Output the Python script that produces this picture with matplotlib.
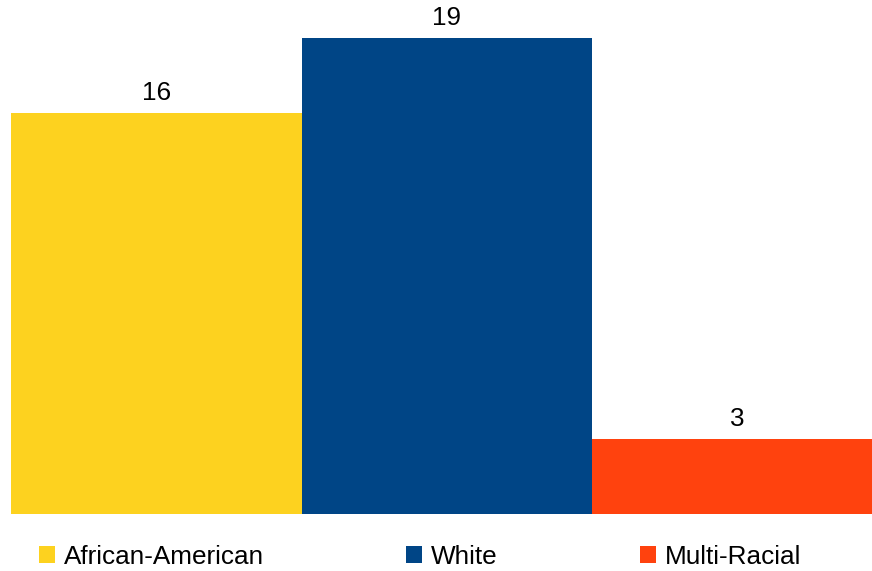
import matplotlib
matplotlib.use("Agg")
import matplotlib.pyplot as plt
from matplotlib.patches import Patch

categories = ["African-American", "White", "Multi-Racial"]
values = [16, 19, 3]
colors = ["#FDD21F", "#004586", "#FF420E"]

plt.rcParams["font.family"] = ["Liberation Sans", "DejaVu Sans"]

W, H = 872, 571
fig = plt.figure(figsize=(W / 100, H / 100), dpi=100)

left_px, right_px, bottom_px = 11, 872, 514
ax = fig.add_axes([left_px / W, (H - bottom_px) / H, (right_px - left_px) / W, bottom_px / H])

bar_px = 290.5
x = list(range(len(categories)))
ax.bar(x, values, width=1.0, color=colors, linewidth=0)
ax.set_xlim(-0.5, -0.5 + (right_px - left_px) / bar_px)
ax.set_ylim(0, bottom_px / 25.05)

for xi, v in zip(x, values):
    ax.annotate(str(v), (xi, v), xytext=(0, 9.4), textcoords="offset points",
                ha="center", va="baseline", fontsize=18.8, color="#000000")

ax.axis("off")

fs = 18.8
fs_px = fs * 100 / 72
handles = [Patch(facecolor=c, edgecolor="none") for c in colors]
fig.legend(handles, categories, loc="center left", bbox_to_anchor=(39 / W, 1 - 557 / H),
           ncol=3, frameon=False, fontsize=fs, handlelength=16 / fs_px, handleheight=16 / fs_px,
           handletextpad=9 / fs_px, columnspacing=142 / fs_px, borderpad=0, borderaxespad=0)

fig.savefig("out.png", dpi=100)
